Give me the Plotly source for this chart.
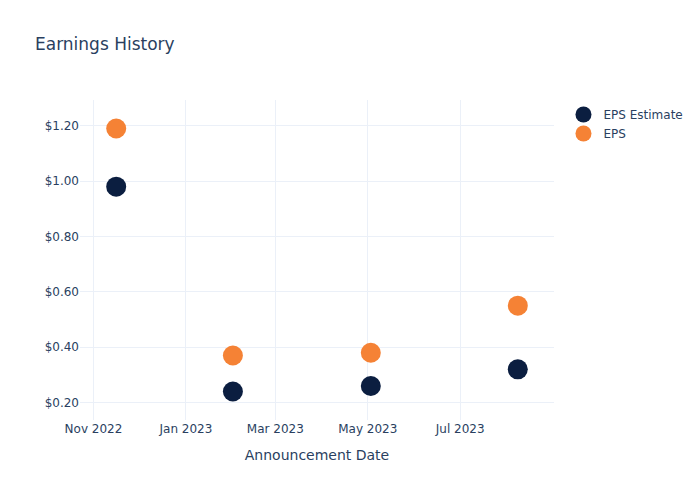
import plotly.graph_objects as go

dates = ["2022-11-16", "2023-02-01", "2023-05-03", "2023-08-08"]
eps_estimate = [0.98, 0.24, 0.26, 0.32]
eps_actual = [1.19, 0.37, 0.38, 0.55]

fig = go.Figure()
fig.add_trace(go.Scatter(x=dates, y=eps_estimate, mode="markers", name="EPS Estimate",
                         marker=dict(color="#0b1e40", size=20)))
fig.add_trace(go.Scatter(x=dates, y=eps_actual, mode="markers", name="EPS",
                         marker=dict(color="#f58235", size=20)))
fig.update_layout(
    template="plotly_white",
    width=700, height=500,
    font=dict(family="DejaVu Sans"),
    title=dict(text="Earnings History"),
    xaxis=dict(title=dict(text="Announcement Date"), dtick="M2", tickformat="%b %Y"),
    yaxis=dict(tickformat="$.2f"),
)
fig.write_html("out.html")
